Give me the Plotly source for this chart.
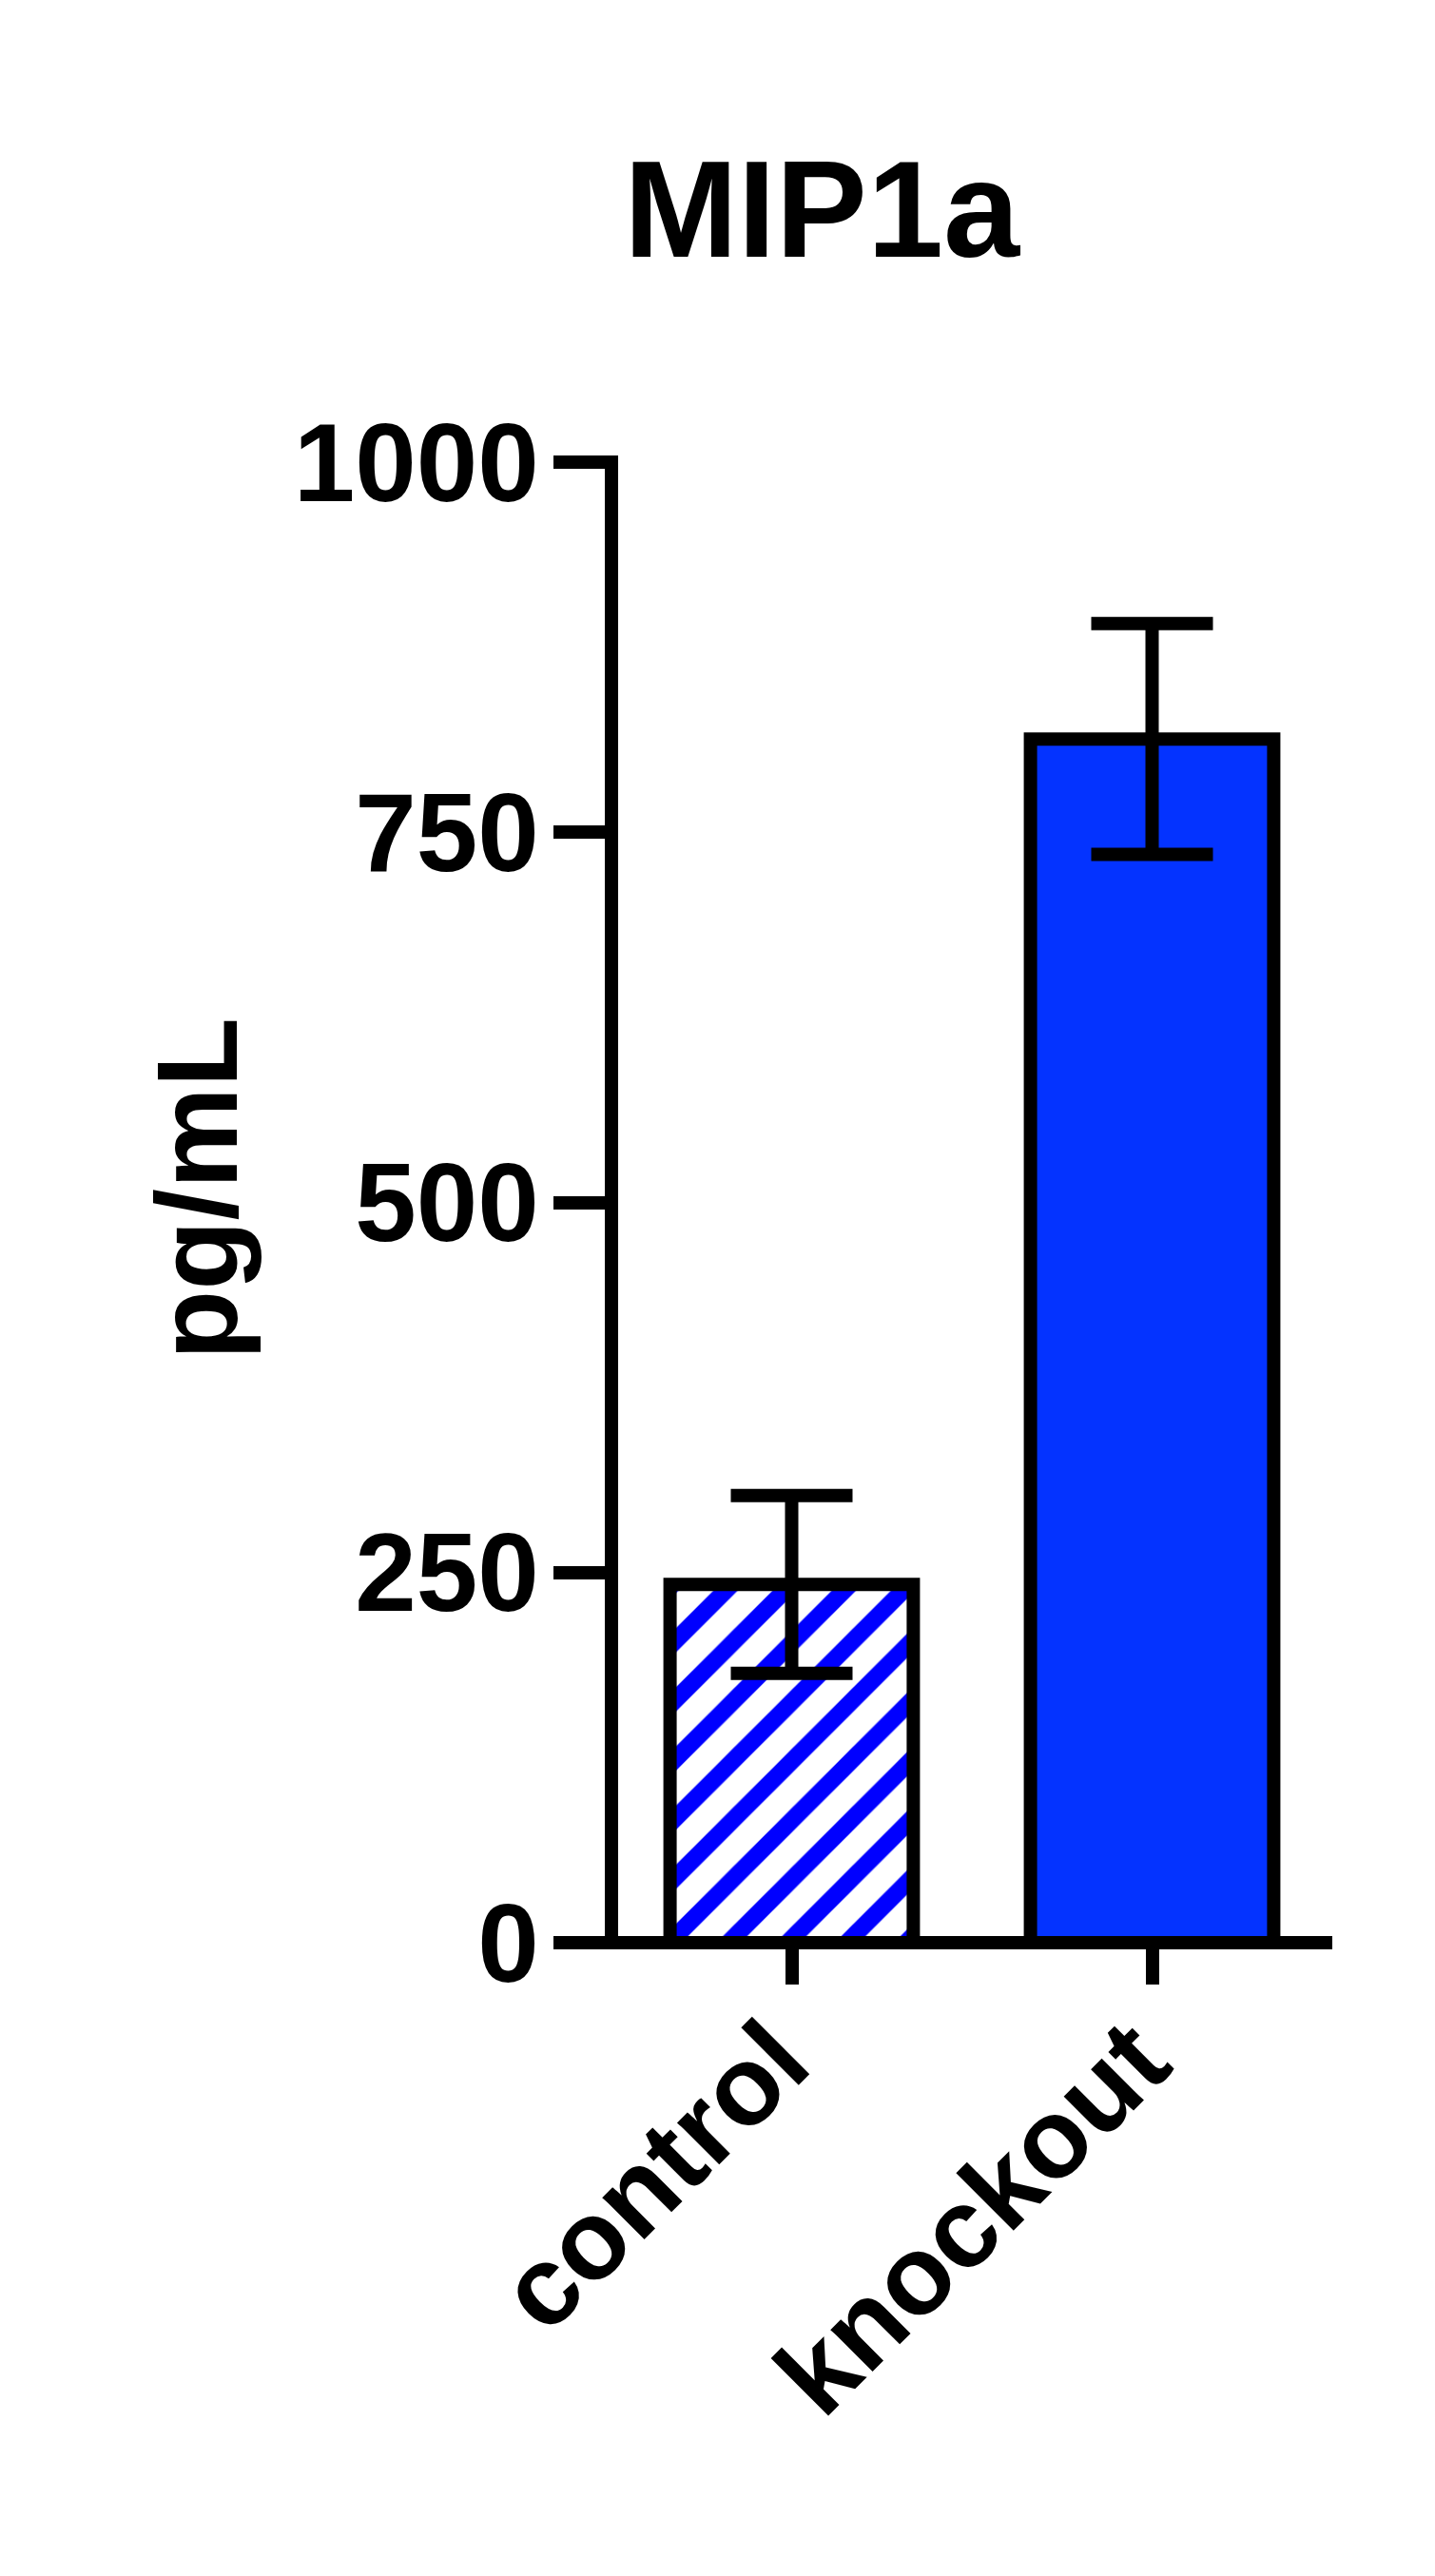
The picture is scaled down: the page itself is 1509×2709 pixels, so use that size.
import plotly.graph_objects as go

# Data
categories = ["control", "knockout"]
means = [242, 813]
sem = [60, 78]
y_ticks = [0, 250, 500, 750, 1000]
y_ticktext = ["0", "250", "500", "750", "1000"]
title_text = "MIP1a"
y_label = "pg/mL"

FONT = "Liberation Sans, Arial, sans-serif"
W, H = 1509, 2709
L, R, T, B = 635, 116, 478, 674
PW, PH = W - L - R, H - T - B
LW = 14

fig = go.Figure()
# control: white with blue diagonal hatching
fig.add_trace(go.Bar(
    x=categories[:1], y=means[:1], width=0.675,
    marker=dict(
        color="white",
        line=dict(color="black", width=LW),
        pattern=dict(shape="/", fgcolor="#0000FF", bgcolor="white",
                     size=44, solidity=0.41, fillmode="replace"),
    ),
    error_y=dict(type="data", array=sem[:1], visible=True, color="black",
                 thickness=LW, width=64),
    showlegend=False,
))
# knockout: solid blue
fig.add_trace(go.Bar(
    x=categories[1:], y=means[1:], width=0.675,
    marker=dict(color="#0433FF", line=dict(color="black", width=LW)),
    error_y=dict(type="data", array=sem[1:], visible=True, color="black",
                 thickness=LW, width=64),
    showlegend=False,
))

fig.update_layout(
    width=W, height=H,
    margin=dict(l=L, r=R, t=T, b=B, pad=0),
    paper_bgcolor="white", plot_bgcolor="white",
    barmode="overlay",
    title=dict(text=title_text, x=856 / W, xref="container", xanchor="center",
               y=1 - 212 / H, yref="container", yanchor="middle",
               font=dict(family=FONT, size=144, color="black", weight="bold")),
    font=dict(family=FONT, color="black"),
)

fig.update_yaxes(
    range=[0, 1000], tickvals=y_ticks, ticktext=y_ticktext,
    showgrid=False, zeroline=False, showline=False,
    ticks="outside", ticklen=60, tickwidth=LW, tickcolor="black",
    ticklabelstandoff=-8,
    tickfont=dict(family=FONT, size=116, color="black", weight="bold"),
)
fig.update_xaxes(
    range=[-0.5, 1.5],
    categoryorder="array", categoryarray=categories,
    showgrid=False, zeroline=False, showline=False,
    ticks="outside", ticklen=43, tickwidth=LW, tickcolor="black",
    tickangle=-45, ticklabelstandoff=-36, ticklabelshift=-17,
    tickfont=dict(family=FONT, size=118, color="black", weight="bold"),
)

# axis lines (drawn centred on the plot edges, above the bars)
fig.add_shape(type="line", xref="paper", yref="paper",
              x0=-LW / 2 / PW, x1=1, y0=0, y1=0,
              line=dict(color="black", width=LW), layer="above")
fig.add_shape(type="line", xref="paper", yref="paper",
              x0=0, x1=0, y0=0, y1=1 + LW / 2 / PH,
              line=dict(color="black", width=LW), layer="above")

fig.add_annotation(
    text=y_label, textangle=-90, showarrow=False,
    xref="paper", yref="paper",
    x=(199 - L) / PW, y=(H - B - 1242) / PH,
    xanchor="center", yanchor="middle",
    font=dict(family=FONT, size=120, color="black", weight="bold"),
)

fig.write_html("out.html")
